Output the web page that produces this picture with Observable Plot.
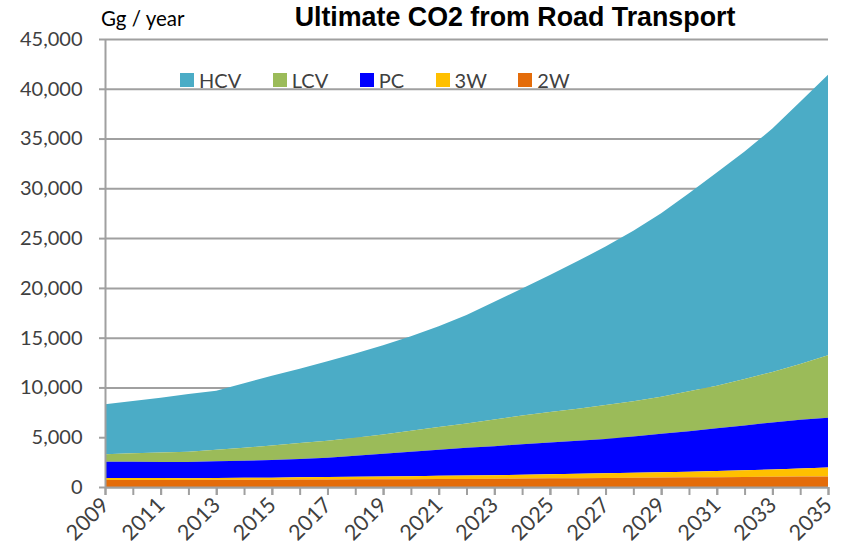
<!DOCTYPE html>
<html>
<head>
<meta charset="utf-8">
<script src="https://cdn.jsdelivr.net/npm/d3@7"></script>
<script src="https://cdn.jsdelivr.net/npm/@observablehq/plot@0.6"></script>
<style>
  html, body { margin: 0; padding: 0; background: #fff; }
  #wrap { position: relative; width: 844px; height: 557px; font-family: Lato, "Open Sans", sans-serif; }
  #title { position: absolute; left: 215px; width: 600px; top: 2px; text-align: center;
           font-family: "Liberation Sans", Arial, sans-serif; font-weight: bold; font-size: 26.8px; color: #000; }
  #unit { position: absolute; left: 101px; top: 6px; font-size: 20.5px; color: #000; }
  #legend { position: absolute; left: 180px; top: 68px; display: flex; align-items: center; font-size: 20px; color: #404040; }
  .item { display: flex; align-items: center; margin-right: 31.5px; }
  .sw { width: 14px; height: 14px; margin-right: 5px; }
  .xlab text { font-size: 21.5px; }
</style>
</head>
<body>
<div id="wrap">
  <div id="chart"></div>
  <div id="title">Ultimate CO2 from Road Transport</div>
  <div id="unit">Gg / year</div>
  <div id="legend"></div>
</div>
<script>
const years = [2009,2010,2011,2012,2013,2014,2015,2016,2017,2018,2019,2020,2021,2022,2023,2024,2025,2026,2027,2028,2029,2030,2031,2032,2033,2034,2035];
const hcv = [5000,5230,5500,5810,5940,6470,7005,7480,7975,8450,8950,9490,10130,10880,11810,12750,13770,14820,15920,17130,18430,19890,21420,22850,24450,26350,28170];
const lcv = [765,865,970,1040,1160,1300,1475,1610,1710,1820,1940,2110,2280,2450,2690,2890,3050,3230,3420,3540,3720,4000,4290,4660,5060,5590,6270];
const pc  = [1635,1635,1605,1610,1680,1720,1760,1830,1940,2100,2280,2450,2620,2790,2910,3070,3210,3320,3440,3660,3870,4070,4280,4510,4730,4910,5010];
const w3  = [200,195,185,175,180,190,200,220,240,260,280,300,320,340,360,380,400,430,460,490,530,570,620,670,730,805,890];
const w2  = [700,705,710,715,720,730,740,750,760,770,780,790,800,810,830,850,870,890,910,930,950,970,990,1010,1030,1045,1060];

const seriesNames = ["HCV","LCV","PC","3W","2W"];
const seriesColors = ["#4BACC6","#9BBB59","#0000FF","#FFC000","#E46C0A"];
const stackOrder = ["2W","3W","PC","LCV","HCV"];
const yTicks = [0,5000,10000,15000,20000,25000,30000,35000,40000,45000];
const xLabelYears = [2009,2011,2013,2015,2017,2019,2021,2023,2025,2027,2029,2031,2033,2035];

const seriesValues = {HCV: hcv, LCV: lcv, PC: pc, "3W": w3, "2W": w2};
const data = years.flatMap((year, i) => seriesNames.map(s => ({year, series: s, value: seriesValues[s][i]})));

const axisGray = "#A0A0A0";

const chart = Plot.plot({
  width: 844,
  height: 557,
  marginTop: 39,
  marginBottom: 70,
  marginLeft: 105,
  marginRight: 16,
  x: {domain: [2009, 2035]},
  y: {domain: [0, 45000]},
  color: {domain: seriesNames, range: seriesColors},
  style: {fontFamily: "Lato, 'Open Sans', sans-serif", fontSize: "20px", color: "#404040", background: "white", overflow: "visible"},
  marks: [
    Plot.gridY(yTicks, {stroke: axisGray, strokeOpacity: 1, strokeWidth: 2}),
    Plot.areaY(data, {x: "year", y: "value", fill: "series", order: stackOrder}),
    Plot.ruleX([2009], {stroke: axisGray, strokeWidth: 2}),
    Plot.ruleY([0], {stroke: axisGray, strokeWidth: 2}),
    Plot.axisY(yTicks, {tickSize: 6, tickPadding: 17, tickFormat: d3.format(","), stroke: axisGray, strokeWidth: 2, label: null}),
    Plot.axisX(years, {tickSize: 8, tickFormat: () => "", stroke: axisGray, strokeWidth: 2, label: null}),
    Plot.axisX(xLabelYears, {tickSize: 8, tickPadding: 6, tickRotate: -45, tickFormat: d => String(d), stroke: axisGray, strokeWidth: 2, label: null, className: "xlab"})
  ]
});
document.getElementById("chart").appendChild(chart);

const legend = document.getElementById("legend");
seriesNames.forEach((s, i) => {
  const item = document.createElement("div");
  item.className = "item";
  const sw = document.createElement("div");
  sw.className = "sw";
  sw.style.background = seriesColors[i];
  const label = document.createElement("span");
  label.textContent = s;
  item.appendChild(sw);
  item.appendChild(label);
  legend.appendChild(item);
});
</script>
</body>
</html>
